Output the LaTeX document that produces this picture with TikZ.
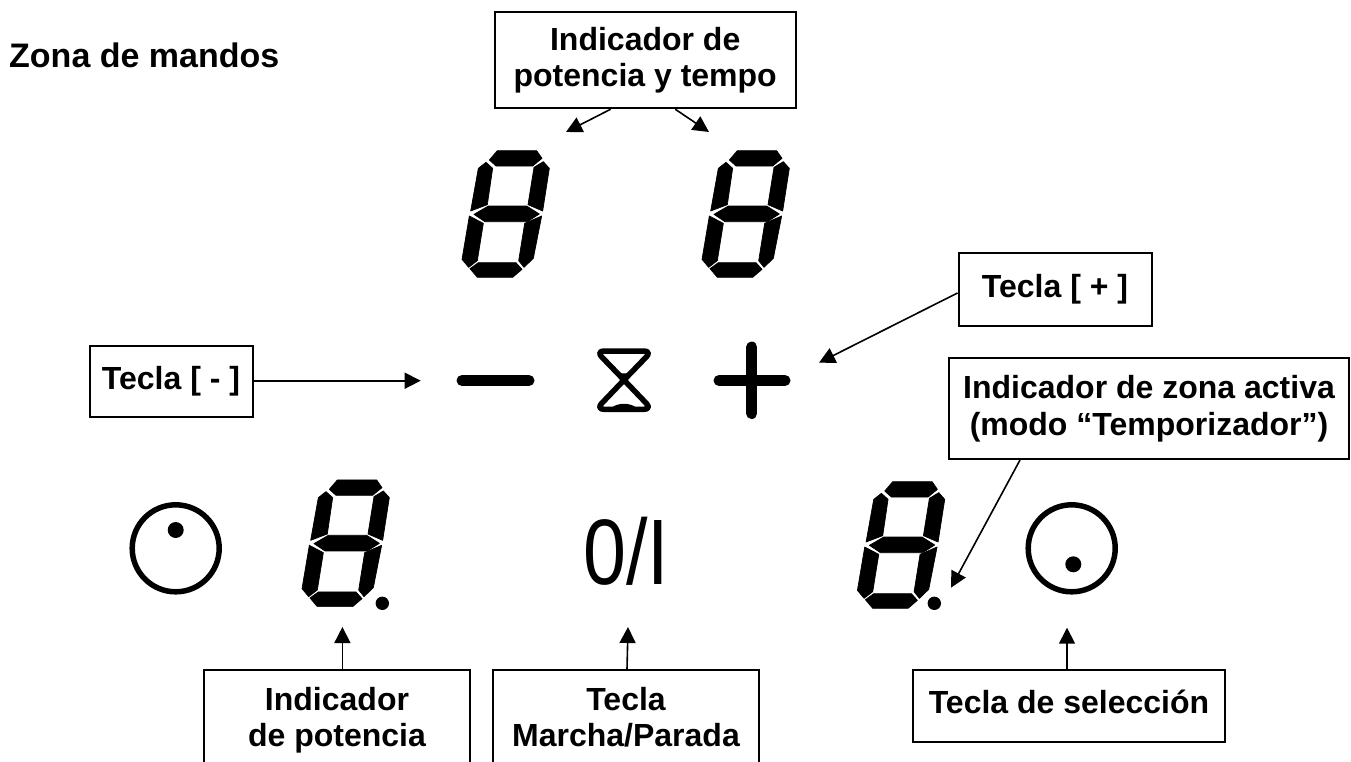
\documentclass[tikz,border=0pt]{standalone}
\usepackage{fontspec}
\setmainfont{Liberation Sans}
\usetikzlibrary{arrows.meta}
\tikzset{
  box/.style={draw=black,line width=2pt,fill=white,inner sep=0pt,align=center,font=\bfseries\fontsize{32}{36.7}\selectfont},
  arr/.style={line width=1.6pt,-{Triangle[length=16pt,width=16pt]},shorten >=0pt},
  sym/.style={line width=11pt,line cap=round},
  ring/.style={line width=5.5pt},
  hg/.style={line width=5.5pt,line join=round},
  seg/.style={draw=black,fill=black,line width=.7pt,line join=round},
}
\newcommand{\segdigit}[2]{%
\begin{scope}[shift={(420+#1,130+#2)},scale=1/3]
\path[seg] (232,62)--(350,62)--(366,85)--(338,108)--(228,108)--(208,90)--cycle;
\path[seg] (198,97)--(175,115)--(152,243)--(202,224)--(218,115)--cycle;
\path[seg] (370,95)--(388,115)--(368,243)--(324,224)--(342,112)--cycle;
\path[seg] (162,253)--(205,228)--(320,228)--(358,252)--(322,275)--(195,275)--cycle;
\path[seg] (148,258)--(190,280)--(172,392)--(146,412)--(126,388)--cycle;
\path[seg] (365,258)--(340,385)--(312,412)--(296,392)--(314,280)--cycle;
\path[seg] (175,398)--(288,398)--(306,418)--(278,442)--(172,442)--(150,416)--cycle;
\end{scope}}
\begin{document}
\begin{tikzpicture}[x=1pt,y=-1pt]
\clip (0,0) rectangle (1351,761);
% title
\node[anchor=base west,inner sep=0pt,font=\bfseries\fontsize{34}{40}\selectfont] (title) at (9,67) {Zona de mandos};
% boxes
\node[box,minimum width=301pt,minimum height=96pt] (ptbox) at (645.2,60.2) {Indicador de\\potencia y tempo};
\node[box,minimum width=163pt,minimum height=71pt] (minbox) at (171,381.5) {\raisebox{3pt}{Tecla [ - ]}};
\node[box,minimum width=193pt,minimum height=73pt] (plusbox) at (1055,289) {\raisebox{7pt}{Tecla [ + ]}};
\node[box,minimum width=400pt,minimum height=101pt] (zonebox) at (1149,408.5) {Indicador de zona activa\\(modo “Temporizador”)};
\node[box,minimum width=265.5pt,minimum height=102pt] (powbox) at (337,721) {\strut Indicador\\\strut de potencia};
\node[box,minimum width=266pt,minimum height=102pt] (onbox) at (626,721) {\strut Tecla\\\strut Marcha/Parada};
\node[box,minimum width=312pt,minimum height=72pt] (selbox) at (1069,706) {\raisebox{9pt}{Tecla de selección}};
% digits
\segdigit{0}{0}
\segdigit{240}{0}
\segdigit{-160}{329.3}
\segdigit{395.4}{331}
\fill (382.3,603.3) circle (6.7);
\fill (934.3,603.3) circle (6.7);
% minus, plus
\draw[sym] (462,380.5)--(529,380.5);
\draw[sym] (719,380.5)--(785,380.5);
\draw[sym] (751.7,347)--(751.7,413.5);
% hourglass
\draw[hg] (624,380) [rounded corners=8pt] -- (596,351) -- (652,351) [sharp corners] -- cycle;
\draw[hg] (624,380) [rounded corners=8pt] -- (596,409.3) -- (652,409.3) [sharp corners] -- cycle;
\fill (610,409) .. controls (617,402) and (631,402) .. (638,409) -- cycle;
\fill (617,372) .. controls (621,374) and (627,374) .. (631,372) -- (624,380) -- cycle;
% rings
\draw[ring] (175.7,548.3) circle (43.5);
\fill (175.7,530) circle (8);
\draw[ring] (1071.7,548.3) circle (43.5);
\fill (1073.3,564.3) circle (8);
% 0/I
\node[anchor=base,inner sep=0pt,font=\fontsize{93}{100}\selectfont] (onoff) at (626,584) {\scalebox{0.83}[1]{0/I}};
% arrow ends
\coordinate (t1) at (566,132);
\coordinate (t2) at (709,132);
\coordinate (t3) at (420.7,380.7);
\coordinate (t4) at (819,362.7);
\coordinate (t5) at (951,587.7);
\coordinate (t6) at (342.4,627);
\coordinate (t7) at (628,627);
\coordinate (t8) at (1067,627.7);
\draw[arr] ([xshift=-34.5pt]ptbox.south) -- (t1);
\draw[arr] ([xshift=30pt]ptbox.south) -- (t2);
\draw[arr] ([yshift=.8pt]minbox.east) -- (t3);
\draw[arr] ([yshift=-4pt]plusbox.west) -- (t4);
\draw[arr] ([xshift=-129pt]zonebox.south) -- (t5);
\draw[arr] ([xshift=5.4pt]powbox.north) -- (t6);
\draw[arr] ([xshift=1pt]onbox.north) -- (t7);
\draw[arr] ([xshift=-2pt]selbox.north) -- (t8);
\end{tikzpicture}
\end{document}
